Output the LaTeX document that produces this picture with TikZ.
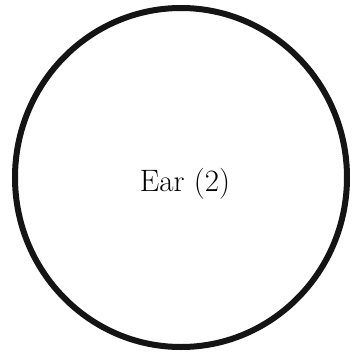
\documentclass[tikz,border=0pt]{standalone}
\usepackage{fontspec}
\usetikzlibrary{shapes.geometric}
\tikzset{ring/.style={draw=black!92, line width=6pt},
  label/.style={font=\fontsize{31}{36}\selectfont, inner sep=0pt}}
\begin{document}
\begin{tikzpicture}[x=1pt,y=1pt]
\useasboundingbox (0,0) rectangle (352,-354);
\fill[white] (0,0) rectangle (352,-354);
\node[ring, ellipse, minimum width=332pt, minimum height=339pt, inner sep=0pt] (ear) at (181,-177.5) {};
\node[label] (t) at (185,-184) {Ear (2)};
\end{tikzpicture}
\end{document}
